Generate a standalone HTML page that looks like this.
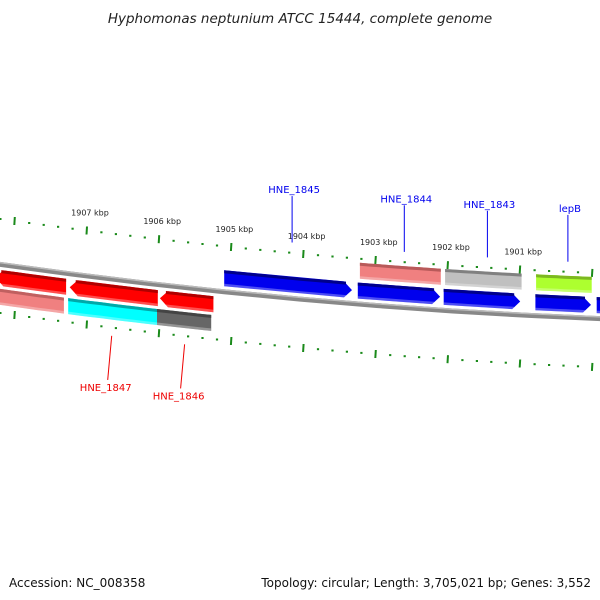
<!DOCTYPE html>
<html><head><meta charset="utf-8"><style>
html,body{margin:0;padding:0;background:#fff}
svg{display:block;font-family:"DejaVu Sans","Liberation Sans",sans-serif}
</style></head><body>
<svg id="map" width="600" height="600" viewBox="0 0 600 600">
<text x="300" y="23" text-anchor="middle" font-size="13.5" font-style="italic" fill="#222">Hyphomonas neptunium ATCC 15444, complete genome</text>
<text x="9" y="587" font-size="12" fill="#111">Accession: NC_008358</text>
<text x="591" y="587" font-size="12" fill="#111" text-anchor="end">Topology: circular; Length: 3,705,021 bp; Genes: 3,552</text>
<g id="g"></g>
</svg>
<script>
// genes: start kbp, end kbp (start > end since axis decreases to the right)
const geneNames = ["HNE_1844","HNE_1843","lepB","HNE_1845","f2","f3","f4","f5","r1","HNE_1847","HNE_1846","b1","b2","b3"];
const geneStart = [1903.22,1902.04,1900.78,1905.10,1903.25,1902.06,1900.79,1899.94,1908.27,1907.24,1905.99,1908.27,1907.26,1906.03];
const geneEnd   = [1902.10,1900.98,1900.01,1903.33,1902.11,1901.00,1900.02,1899.50,1907.29,1906.02,1905.25,1907.32,1906.03,1905.28];
const geneTrack = ["top","top","top","fwd","fwd","fwd","fwd","fwd","rev","rev","rev","bot","bot","bot"];
const geneColor = ["#f08080","#c0c0c0","#adff2f","#0000ee","#0000ee","#0000ee","#0000ee","#0000ee","#ff0000","#ff0000","#ff0000","#f08080","#00ffff","#666666"];
const geneDark  = ["#b85a5a","#808080","#7cb820","#00008b","#00008b","#00008b","#00008b","#00008b","#b00000","#b00000","#b00000","#c06060","#00a8a8","#444444"];
const labelGenes = ["HNE_1845","HNE_1844","HNE_1843","lepB","HNE_1847","HNE_1846"];
const labelSide  = ["up","up","up","up","down","down"];
const tickMajor = [1908,1907,1906,1905,1904,1903,1902,1901,1900];

const g = document.getElementById('g');
const NS = "http://www.w3.org/2000/svg";
function tx(k){ return 87 + (1907 - k) * 72.2; }
function cy(x){ return 216.9 + 0.141*x - 0.0000841*x*x; }
function P(x,d){ return x.toFixed(1)+","+(cy(x)+d).toFixed(1); }
function mk(tag, attrs){ const e=document.createElementNS(NS,tag); for(const k in attrs) e.setAttribute(k,attrs[k]); g.appendChild(e); return e; }
function band(x1,x2,d1,d2){ const pts=[]; const n=8; for(let i=0;i<=n;i++){const x=x1+(x2-x1)*i/n; pts.push(P(x,d1));} for(let i=n;i>=0;i--){const x=x1+(x2-x1)*i/n; pts.push(P(x,d2));} return pts.join(" "); }

// backbone
let bb = mk('polygon',{points:band(-5,605,45,50),fill:'#888'});


let bb2 = mk('polygon',{points:band(-5,605,45,46.5),fill:'#bbb'});



// tick rows
for(let i=Math.round(1899.8*5); i<=Math.round(1908.4*5); i++){
  const k=i/5, x=tx(k);
  if(x<-2||x>602) continue;
  const major = (i%5===0);
  [[major?-2:1, major?6:3],[major?92:95, major?100:97]].forEach((r,j)=>{
    const t = mk('line',{x1:x.toFixed(1),y1:(cy(x)+r[0]).toFixed(1),x2:(x+ (major?-0.5:0)).toFixed(1),y2:(cy(x)+r[1]).toFixed(1),stroke:'#1a8a1a','stroke-width':major?2:2.2});
    
    
  });
}
tickMajor.forEach(k=>{
  const x=tx(k); if(x<20||x>590) return;
  const t=mk('text',{x:(x+3).toFixed(1),y:(cy(x)-13).toFixed(1),'font-size':'8','text-anchor':'middle',fill:'#222'});
  t.textContent=k+" kbp";
  
  
});

const trackD = {top:[6,22],fwd:[26,42],rev:[53,69],bot:[72,88]};
geneNames.forEach((nm,i)=>{
  const x1=tx(geneStart[i]), x2=tx(geneEnd[i]);
  const [d1,d2]=trackD[geneTrack[i]];
  const dm=(d1+d2)/2;
  let pts;
  if(geneTrack[i]==='fwd'){
    pts=[P(x1,d1),P(x2-8,d1),P(x2,dm),P(x2-8,d2),P(x1,d2)].join(" ");
  } else if(geneTrack[i]==='rev'){
    pts=[P(x1+8,d1),P(x2,d1),P(x2,d2),P(x1+8,d2),P(x1,dm)].join(" ");
  } else pts=band(x1,x2,d1,d2);
  const b=mk('polygon',{points:pts,fill:geneColor[i]});
  
  
  const sx1 = geneTrack[i]==='rev'? x1+6 : x1, sx2 = geneTrack[i]==='fwd'? x2-6 : x2;
  const s=mk('polygon',{points:band(sx1,sx2,d1,d1+3),fill:geneDark[i]});
  
  
  const s2=mk('polygon',{points:band(sx1,sx2,d2-2.5,d2),fill:'#fff','fill-opacity':'0.3'});
  
  
});

labelGenes.forEach((nm,j)=>{
  const i=geneNames.indexOf(nm);
  const xc=(tx(geneStart[i])+tx(geneEnd[i]))/2;
  const up = labelSide[j]==='up';
  const col = up?'#0000ee':'#ee0000';
  const xl = xc + (up?6:-8);
  const l=mk('line',{x1:(up?xl-2:xl+2).toFixed(1),y1:(cy(xl)+(up?-55:149)).toFixed(1),x2:(up?xc+4:xc-2).toFixed(1),y2:(cy(xc)+(up?-8:104)).toFixed(1),stroke:col,'stroke-width':1});
  
  
  const t=mk('text',{x:xl.toFixed(1),y:(cy(xl)+(up?-58:160)).toFixed(1),'font-size':'10','text-anchor':'middle',fill:col});
  t.textContent=nm;
  
  
});
</script>
</body></html>
